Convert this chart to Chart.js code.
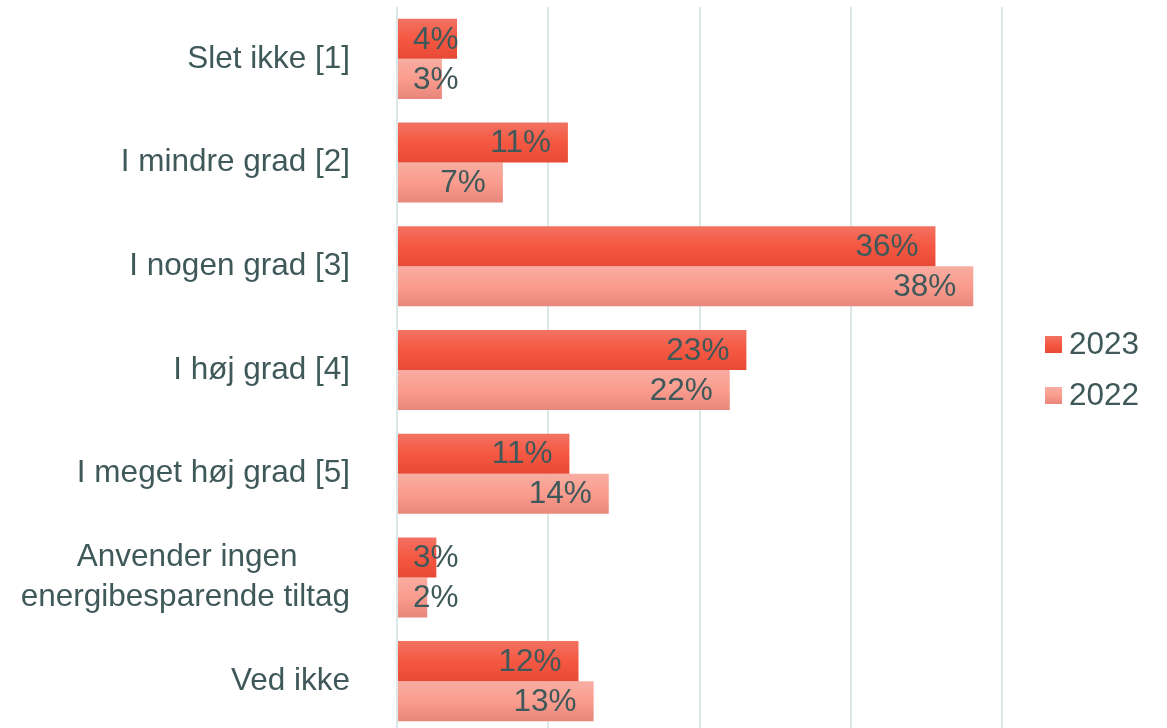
<!DOCTYPE html>
<html>
<head>
<meta charset="utf-8">
<script src="https://cdn.jsdelivr.net/npm/chart.js@4"></script>
<style>
    html, body { margin: 0; padding: 0; background: #fff; overflow: hidden; width: 1167px; height: 728px; }
    #wrap { position: relative; width: 1167px; height: 733px; }
</style>
</head>
<body>
<div id="wrap"><canvas id="chart"></canvas></div>
<script>
// Kategorier og andele (%)
const categories = [
    'Slet ikke [1]',
    'I mindre grad [2]',
    'I nogen grad [3]',
    'I høj grad [4]',
    'I meget høj grad [5]',
    ['Anvender ingen      ', 'energibesparende tiltag'],
    'Ved ikke'
];
const values2023 = [3.97, 11.3, 35.6, 23.1, 11.4, 2.6, 12.0];
const values2022 = [2.97, 7.0, 38.1, 22.0, 14.0, 2.0, 13.0];
const xTicks = [0, 10, 20, 30, 40];

const FONT = '"Liberation Sans", Arial, sans-serif';
const TEXT_COLOR = '#3f5859';

// gradient stops: top, middle, bottom
const barStops = [
    ['#f27262', '#f55842', '#e64a36'],  // 2023
    ['#f8ada1', '#fa9c8e', '#e8867b']   // 2022
];

function makeGradient(ctx, top, bottom, stops) {
    const g = ctx.createLinearGradient(0, top, 0, bottom);
    g.addColorStop(0, stops[0]);
    g.addColorStop(0.5, stops[1]);
    g.addColorStop(1, stops[2]);
    return g;
}

// Farveforløb på hver søjle
const gradientBars = {
    id: 'gradientBars',
    beforeDatasetsDraw(chart) {
        const ctx = chart.ctx;
        chart.data.datasets.forEach((ds, di) => {
            chart.getDatasetMeta(di).data.forEach(el => {
                const top = el.y - el.height / 2;
                el.options = Object.assign({}, el.options, {
                    backgroundColor: makeGradient(ctx, top, top + el.height, barStops[di])
                });
            });
        });
    }
};

// Dataetiketter (inde i enden af søjlen)
const barLabels = {
    id: 'barLabels',
    afterDatasetsDraw(chart) {
        const ctx = chart.ctx;
        ctx.save();
        ctx.font = '31.5px ' + FONT;
        ctx.fillStyle = TEXT_COLOR;
        ctx.textAlign = 'right';
        ctx.textBaseline = 'middle';
        chart.data.datasets.forEach((ds, di) => {
            chart.getDatasetMeta(di).data.forEach((el, i) => {
                const txt = Math.round(ds.data[i]) + '%';
                const w = ctx.measureText(txt).width;
                const x = Math.max(el.x - 17, el.base + 15 + w);
                ctx.fillText(txt, x, el.y + 1);
            });
        });
        ctx.restore();
    }
};

// Forklaring til højre
const sideLegend = {
    id: 'sideLegend',
    afterDraw(chart) {
        const ctx = chart.ctx;
        const area = chart.chartArea;
        const mid = (area.top + area.bottom) / 2;
        const step = 51;
        const n = chart.data.datasets.length;
        ctx.save();
        ctx.font = '31.5px ' + FONT;
        ctx.textBaseline = 'middle';
        ctx.textAlign = 'left';
        chart.data.datasets.forEach((ds, di) => {
            const cy = mid + (di - (n - 1) / 2) * step;
            const bx = area.right + 43;
            ctx.fillStyle = makeGradient(ctx, cy - 8.5, cy + 8.5, barStops[di]);
            ctx.fillRect(bx, cy - 8.5, 17, 17);
            ctx.fillStyle = TEXT_COLOR;
            ctx.fillText(ds.label, bx + 24, cy + 1);
        });
        ctx.restore();
    }
};

new Chart(document.getElementById('chart'), {
    type: 'bar',
    data: {
        labels: categories,
        datasets: [
            { label: '2023', data: values2023, backgroundColor: barStops[0][1] },
            { label: '2022', data: values2022, backgroundColor: barStops[1][1] }
        ]
    },
    options: {
        indexAxis: 'y',
        responsive: true,
        maintainAspectRatio: false,
        animation: false,
        layout: { padding: { top: 7, right: 165, bottom: 0, left: 0 } },
        datasets: {
            bar: { categoryPercentage: 0.772, barPercentage: 1, borderWidth: 0 }
        },
        scales: {
            x: {
                min: xTicks[0],
                max: xTicks[xTicks.length - 1],
                afterBuildTicks: scale => { scale.ticks = xTicks.map(v => ({ value: v })); },
                ticks: { display: false },
                grid: { color: '#dce7e7', lineWidth: 2, drawTicks: false },
                border: { display: false }
            },
            y: {
                afterFit: scale => {
                    scale.width = 397;
                    scale.paddingTop = 0;
                    scale.paddingBottom = 0;
                },
                grid: { display: false, drawTicks: false },
                border: { display: false },
                ticks: {
                    padding: 47,
                    color: TEXT_COLOR,
                    font: { family: FONT, size: 31.5, lineHeight: 1.27 }
                }
            }
        },
        plugins: {
            legend: { display: false },
            tooltip: { enabled: false }
        }
    },
    plugins: [gradientBars, barLabels, sideLegend]
});
</script>
</body>
</html>
